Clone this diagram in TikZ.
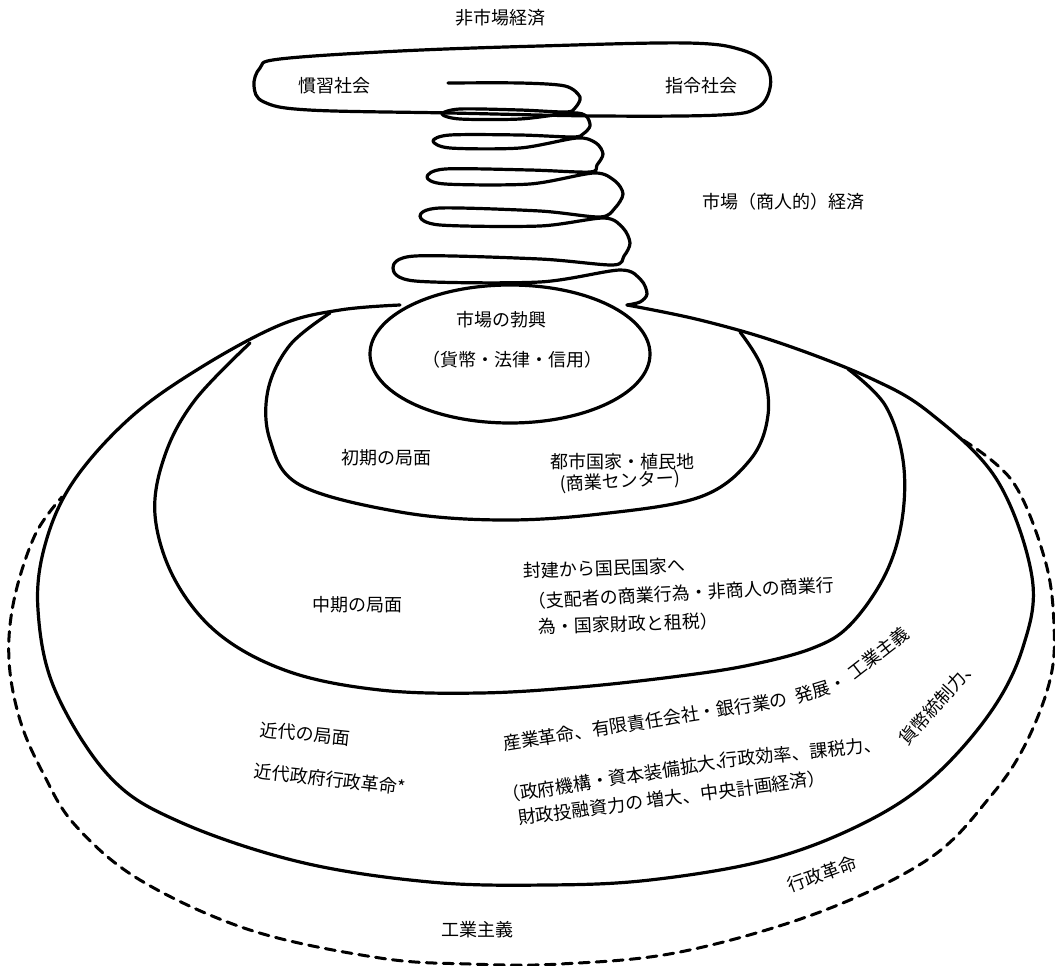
\documentclass[tikz,border=0pt]{standalone}
\usepackage{fontspec}
\setmainfont{Noto Sans CJK JP}
\begin{document}
\begin{tikzpicture}[x=1pt,y=-1pt,line cap=round,line join=round,
  ring/.style={line width=3.2pt},
  dashring/.style={line width=3pt,dash pattern=on 10pt off 7pt},
  lbl/.style={font=\fontsize{18}{20}\selectfont,inner sep=0pt}]
\useasboundingbox (0,0) rectangle (1055,966);
% top ellipse
\draw[ring] plot[smooth cycle,tension=0.6] coordinates {(254,86) (260,68) (280,59) (400,51) (540,46) (687,43) (742,50) (766,66) (770,88) (757,108) (720,115) (600,116) (450,113) (309,110) (264,102)};
% spiral
\draw[ring] plot[smooth,tension=0.5] coordinates {
 (448,83) (520,83) (565,86) (580,97) (575,108)
 (566,112) (520,110) (460,109) (442,114) (460,119) (520,119) (572,113) (586,116) (590,126) (583,134)
 (573,137) (520,135) (450,135) (433,141) (450,148) (520,148) (577,138) (596,143) (603,154) (597,165)
 (590,172) (530,170) (445,169) (427,177) (445,184) (530,184) (594,173) (615,181) (623,194) (615,208)
 (600,217) (540,211) (440,208) (420,216) (440,225) (540,226) (604,218) (623,228) (630,243) (624,256)
 (613,265) (540,259) (415,256) (393,268) (415,281) (540,282) (620,270) (641,280) (647,294) (640,302) (627,305)};
% ring 4 (outer solid)
\draw[ring] plot[smooth,tension=0.6] coordinates {(627,305) (700,320) (780,343) (870,378) (930,413) (997,480) (1032,577) (1023,647) (990,713) (930,780) (860,825) (767,860) (650,880) (547,885) (430,882) (300,862) (180,822) (110,777) (55,690) (38,610) (45,545) (73,482) (130,418) (200,368) (280,325) (340,310) (400,305)};
% ring 3
\draw[ring] plot[smooth,tension=0.6] coordinates {(848,369) (885,405) (903,460) (902,520) (885,575) (850,625) (813,648) (750,665) (680,676) (580,687) (480,693) (380,690) (290,672) (220,635) (175,580) (155,515) (165,455) (195,400) (250,343)};
% ring 2
\draw[ring] plot[smooth,tension=0.6] coordinates {(740,332) (762,368) (768,415) (750,460) (700,497) (600,514) (500,520) (400,512) (300,485) (270,440) (268,390) (290,345) (330,313)};
% inner ellipse
\draw[ring] (510,354) ellipse [x radius=140pt,y radius=69pt];
% dashed outer
\draw[dashring] plot[smooth,tension=0.6] coordinates {(963,440) (1013,482) (1045,560) (1054,625) (1050,680) (1025,745) (990,797) (930,858) (820,912) (680,952) (560,964) (470,964) (380,958) (250,930) (140,880) (75,825) (43,773) (20,720) (9,660) (14,600) (35,535) (62,497)};
% labels
\node[lbl] (t1) at (500,18) {非市場経済};
\node[lbl] (t2) at (334,86) {慣習社会};
\node[lbl] (t3) at (701,86) {指令社会};
\node[lbl] (t4) at (783,202) {市場（商人的）経済};
\node[lbl] (t5) at (501,320) {市場の勃興};
\node[lbl] (t6) at (512,360) {（貨幣・法律・信用）};
\node[lbl] (t7) at (386,458) {初期の局面};
\node[lbl,anchor=west] (t8) at (550,462) {都市国家・植民地};
\node[lbl,anchor=west,rotate=3] (t9) at (560,485) {(商業センター)};
\node[lbl] (t10) at (357,605) {中期の局面};
\node[lbl,anchor=west,rotate=2] (t11) at (523,571) {封建から国民国家へ};
\node[lbl,anchor=west,rotate=3.3] (t12) at (528,602) {（支配者の商業行為・非商人の商業行};
\node[lbl,anchor=west,rotate=2] (t13) at (538,627) {為・国家財政と租税）};
\node[lbl,rotate=-6] (t14) at (305,734) {近代の局面};
\node[lbl,rotate=-6.5] (t15) at (330,779) {近代政府行政革命*};
\node[lbl,rotate=20] (t16) at (822,874) {行政革命};
\node[lbl] (t17) at (477,930) {工業主義};
% curved texts as rotated pieces
\node[lbl,anchor=west,rotate=9] (a1) at (503,744) {産業革命、有限責任会社・銀行業の};
\node[lbl,anchor=west,rotate=17] (a2) at (795,697) {発展・};
\node[lbl,anchor=west,rotate=38] (a3) at (850,675) {工業主義};
\node[lbl,anchor=west,rotate=9] (b1) at (502,796) {（政府機構・資本装備拡大、};
\node[lbl,anchor=west,rotate=6] (b2) at (720,761) {行政効率、課税力、};
\node[lbl,anchor=west,rotate=48] (b3) at (902,742) {貨幣統制力、};
\node[lbl,anchor=west,rotate=7.5] (c1) at (518,818) {財政投融資力の 増大、中央計画経済）};
\end{tikzpicture}
\end{document}
